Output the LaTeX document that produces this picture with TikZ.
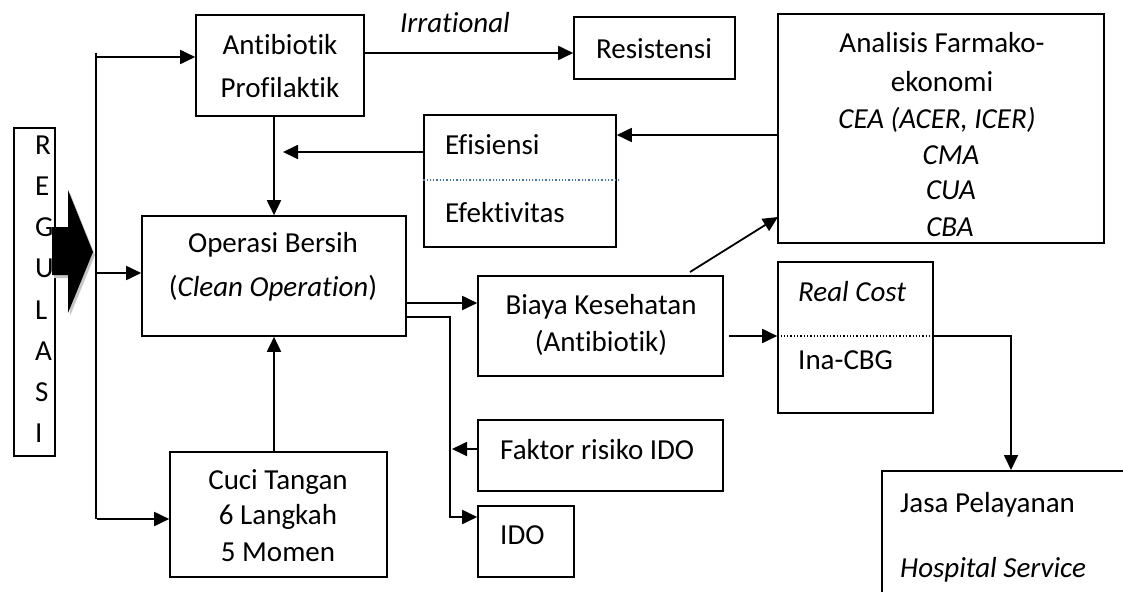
\documentclass[tikz,border=0pt]{standalone}
\usepackage{fontspec}
\setmainfont{Carlito}[Ligatures={NoCommon}]
\usetikzlibrary{arrows.meta}
\begin{document}
\begin{tikzpicture}[x=1pt,y=-1pt,
  box/.style={draw, line width=1.6pt, inner sep=0pt, rectangle},
  txt/.style={inner sep=0pt, font=\fontsize{29}{35}\selectfont},
  arr/.style={line width=1.8pt, -{Triangle[length=15pt,width=14pt]}},
  ln/.style={line width=1.8pt}]
\useasboundingbox (0,0) rectangle (1123,591);
% boxes
\node[box, minimum width=41pt, minimum height=328pt] (reg) at (34.5,292) {};
\node[box, minimum width=168pt, minimum height=101pt] (anti) at (280,65.5) {};
\node[box, minimum width=161pt, minimum height=62pt] (res) at (654.5,48) {};
\node[box, minimum width=326pt, minimum height=229pt] (ana) at (941,128.5) {};
\node[box, minimum width=192pt, minimum height=132pt] (eff) at (520,181) {};
\node[box, minimum width=264pt, minimum height=120pt] (ops) at (274,276) {};
\node[box, minimum width=217pt, minimum height=125pt] (cuci) at (278.5,514.5) {};
\node[box, minimum width=245pt, minimum height=100pt] (biaya) at (600.5,326) {};
\node[box, minimum width=245pt, minimum height=71pt] (faktor) at (600.5,455.5) {};
\node[box, minimum width=96pt, minimum height=71pt] (ido) at (526,541.5) {};
\node[box, minimum width=155pt, minimum height=151pt] (real) at (855.5,337.5) {};
\begin{scope}
\clip (0,0) rectangle (1123,591);
\node[box, minimum width=300pt, minimum height=200pt, anchor=north west] (jasa) at (881,470) {};
\end{scope}
% dividers
\draw[line width=1.3pt, dotted, color={rgb,255:red,68;green,114;blue,196}] (eff.west |- 0,180) coordinate (d1) -- (620,180) coordinate (d2);
\draw[line width=1.3pt, dotted] (real.west |- 0,336) coordinate (d3) -- (real.east |- 0,336) coordinate (d4);
% REGULASI letters
\foreach \l/\yy in {R/145,E/186,G/227,U/268,L/310,A/351,S/392,I/433}
  \node[txt, anchor=west] (reg\l) at (35,\yy) {\l};
% big block arrow
\fill[gray!45] (54,230) -- (70,230) -- (70,193) -- (95,255) -- (70,316) -- (70,278) -- (54,278) -- cycle;
\fill[black] (52,227) -- (68,227) -- (68,190) -- (93,252) -- (68,313) -- (68,275) -- (52,275) -- cycle;
% texts
\node[txt] (t1) at (280,45) {Antibiotik};
\node[txt] (t2) at (280,88) {Profilaktik};
\node[txt] (t3) at (455,23) {\itshape Irrational};
\node[txt, anchor=west] (t4) at (596,49) {Resistensi};
\node[txt] (t5) at (942,43) {Analisis Farmako-};
\node[txt] (t6) at (942,82) {ekonomi};
\node[txt] (t7) at (937,120) {\itshape CEA (ACER, ICER)};
\node[txt] (t8) at (951,155) {\itshape CMA};
\node[txt] (t9) at (951,190) {\itshape CUA};
\node[txt] (t10) at (950,227) {\itshape CBA};
\node[txt, anchor=west] (t11) at (445,145) {Efisiensi};
\node[txt, anchor=west] (t12) at (445,213) {Efektivitas};
\node[txt] (t13) at (273,245) {Operasi Bersih};
\node[txt] (t14) at (273,288) {(\textit{Clean Operation})};
\node[txt] (t15) at (278,482) {Cuci Tangan};
\node[txt] (t16) at (278,517) {6 Langkah};
\node[txt] (t17) at (278,552) {5 Momen};
\node[txt] (t18) at (601,307) {Biaya Kesehatan};
\node[txt] (t19) at (601,343) {(Antibiotik)};
\node[txt, anchor=west] (t20) at (500,450) {Faktor risiko IDO};
\node[txt, anchor=west] (t21) at (500,535) {IDO};
\node[txt, anchor=west] (t22) at (798,292) {\itshape Real Cost};
\node[txt, anchor=west] (t23) at (798,360) {Ina-CBG};
\node[txt, anchor=west] (t24) at (900,505) {Jasa Pelayanan};
\node[txt, anchor=west] (t25) at (900,570) {\itshape Hospital Service};
% connector coordinates
\coordinate (vtop) at (96,53);
\coordinate (vbot) at (96,519);
\coordinate (v1) at (97,57);
\coordinate (v2) at (97,273);
\coordinate (v3) at (97,519);
\coordinate (a1) at (364,53);
\coordinate (e1) at (778,135);
\coordinate (e2) at (424,152);
\coordinate (e2t) at (283,152);
\coordinate (o1) at (406,303);
\coordinate (o2) at (406,317);
\coordinate (o3) at (450,517);
\coordinate (f1) at (452,449);
\coordinate (b1) at (690,272);
\coordinate (b2) at (778,217);
\coordinate (b3) at (729,336);
\coordinate (r2) at (1011,336);
% connectors
\draw[ln] (vtop) -- (vbot);
\draw[arr] (v1) -- (v1 -| anti.west);
\draw[arr] (v2) -- (v2 -| ops.west);
\draw[arr] (v3) -- (v3 -| cuci.west);
\draw[arr] (a1) -- (a1 -| res.west);
\draw[arr] (ops.north |- anti.south) -- (ops.north);
\draw[arr] (ops.south |- cuci.north) -- (ops.south);
\draw[arr] (e1) -- (e1 -| eff.east);
\draw[arr] (e2) -- (e2t);
\draw[arr] (o1) -- (o1 -| biaya.west);
\draw[arr] (o2) -| (o3) -- (o3 -| ido.west);
\draw[arr] (f1 -| faktor.west) -- (f1);
\draw[arr] (b1) -- (b2);
\draw[arr] (b3) -- (b3 -| real.west);
\draw[arr] (real.east |- r2) -| (r2 |- jasa.north);
\end{tikzpicture}
\end{document}
